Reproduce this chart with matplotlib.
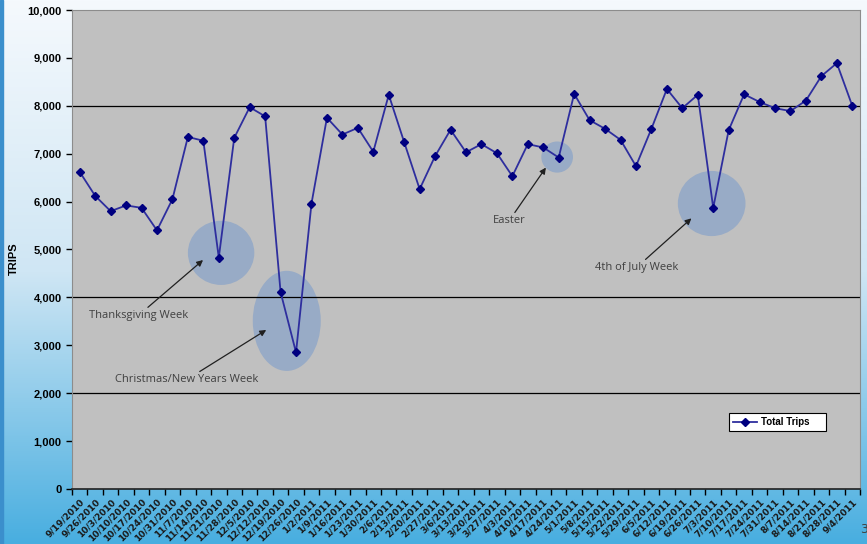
import numpy as np
import matplotlib
matplotlib.use("Agg")
import matplotlib.pyplot as plt
from matplotlib.colors import LinearSegmentedColormap
from matplotlib.patches import Ellipse, Rectangle
from matplotlib.ticker import FuncFormatter

# weekly trip counts
weeks = ["9/19/2010", "9/26/2010", "10/3/2010", "10/10/2010", "10/17/2010",
         "10/24/2010", "10/31/2010", "11/7/2010", "11/14/2010", "11/21/2010",
         "11/28/2010", "12/5/2010", "12/12/2010", "12/19/2010", "12/26/2010",
         "1/2/2011", "1/9/2011", "1/16/2011", "1/23/2011", "1/30/2011",
         "2/6/2011", "2/13/2011", "2/20/2011", "2/27/2011", "3/6/2011",
         "3/13/2011", "3/20/2011", "3/27/2011", "4/3/2011", "4/10/2011",
         "4/17/2011", "4/24/2011", "5/1/2011", "5/8/2011", "5/15/2011",
         "5/22/2011", "5/29/2011", "6/5/2011", "6/12/2011", "6/19/2011",
         "6/26/2011", "7/3/2011", "7/10/2011", "7/17/2011", "7/24/2011",
         "7/31/2011", "8/7/2011", "8/14/2011", "8/21/2011", "8/28/2011",
         "9/4/2011"]
trips = [6620, 6120, 5800, 5920, 5870, 5400, 6050, 7350, 7270, 4830,
         7330, 7970, 7780, 4110, 2850, 5960, 7750, 7400, 7540, 7040,
         8230, 7240, 6260, 6950, 7500, 7030, 7200, 7010, 6530, 7200,
         7130, 6920, 8250, 7700, 7520, 7290, 6740, 7520, 8350, 7950,
         8230, 5870, 7490, 8240, 8080, 7950, 7890, 8110, 8620, 8890,
         8000]
gridlines = [2000, 4000, 8000]

# highlighted weeks: (label, centre x, centre y, width, height, arrow head, arrow tail)
events = [
    ("Thanksgiving Week", 9.15, 4930, 4.3, 1340, (7.98, 4780), (7.0, 3620)),
    ("Christmas/New Years Week", 13.4, 3510, 4.4, 2090, (12.07, 3320), (11.55, 2280)),
    ("Easter", 30.9, 6930, 2.05, 650, (30.17, 6710), (28.85, 5600)),
    ("4th of July Week", 40.9, 5960, 4.38, 1360, (39.59, 5650), (38.72, 4620)),
]

fig = plt.figure(figsize=(8.67, 5.44), dpi=100)

# slide background gradient
bg = fig.add_axes([0, 0, 1, 1], zorder=-10)
cmap = LinearSegmentedColormap.from_list("slide", ["#f5f9fd", "#cfe6f4", "#48aee0"])
bg.imshow(np.linspace(0, 1, 256).reshape(-1, 1), aspect="auto", cmap=cmap,
          extent=[0, 1, 0, 1])
bg.add_patch(Rectangle((0, 0), 0.004, 1, color="#3b8fcc"))
bg.axis("off")

ax = fig.add_axes([72 / 867, 55 / 544, 788 / 867, 479 / 544])
ax.set_facecolor("#c0c0c0")

x = np.arange(len(trips))
for label, cx, cy, w, h, head, tail in events:
    ax.add_patch(Ellipse((cx, cy), w, h, facecolor="#98abc6", edgecolor="none", zorder=1))
    ax.annotate(label, xy=head, xytext=tail, ha="right", va="center",
                fontsize=8, color="#404040", family="Open Sans",
                arrowprops=dict(arrowstyle="-|>", color="#202020", lw=0.9,
                                mutation_scale=9, shrinkA=0, shrinkB=0),
                zorder=4)

for g in gridlines:
    ax.axhline(g, color="#000000", lw=0.9, zorder=2)

ax.plot(x, trips, color="#2e2e9e", lw=1.3, marker="D", markersize=4,
        markerfacecolor="#000080", markeredgecolor="#000080",
        label="Total Trips", zorder=3)

ax.set_xlim(-0.5, len(trips) - 0.5)
ax.set_ylim(0, 10000)
ax.set_yticks(np.arange(0, 10001, 1000))
ax.yaxis.set_major_formatter(FuncFormatter(lambda v, p: f"{int(v):,}"))
ax.set_xticks(x)
ax.set_xticklabels(weeks, rotation=45, ha="right", rotation_mode="anchor",
                   fontsize=6.5, fontweight="bold", color="#1a1a1a")
ax.set_xticks(np.arange(-0.5, len(trips), 1), minor=True)
ax.tick_params(axis="x", which="major", length=0, pad=6)
ax.tick_params(axis="x", which="minor", length=4, width=1, color="black")
ax.tick_params(axis="y", length=4, width=1, color="black", labelsize=8)
for t in ax.get_yticklabels():
    t.set_fontweight("bold")
    t.set_family("Liberation Sans")

ax.set_ylabel("TRIPS", fontsize=8, fontweight="bold", family="Liberation Sans")
ax.yaxis.set_label_coords(-0.068, 0.48)

for side in ["top", "right", "left"]:
    ax.spines[side].set_color("#8c8c8c")
ax.spines["bottom"].set_color("#202020")
ax.spines["bottom"].set_linewidth(1.2)

leg = ax.legend(loc="lower left", bbox_to_anchor=(0.834, 0.121, 0.123, 0.052),
                mode="expand", borderaxespad=0, fancybox=False, framealpha=1,
                edgecolor="black", prop={"family": "Liberation Sans", "size": 7,
                                         "weight": "bold"},
                handlelength=2.5, handletextpad=0.4)
leg.get_frame().set_linewidth(0.8)

fig.text(0.992, 0.02, "3", fontsize=9, color="#404040")

fig.savefig("out.png", dpi=100)
